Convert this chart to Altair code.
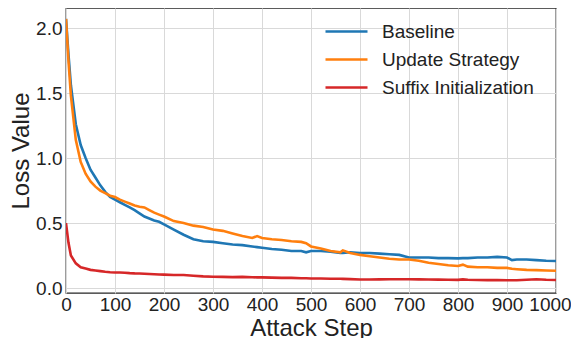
import altair as alt
import pandas as pd

steps = [0, 5, 10, 20, 30, 40, 50, 60, 70, 80, 90, 100, 110, 120, 130, 140, 150, 160, 170, 180,
         190, 200, 220, 240, 260, 280, 300, 320, 340, 360, 380, 390, 400, 420, 440, 460, 480, 490,
         500, 520, 540, 560, 565, 580, 600, 620, 640, 660, 680, 700, 720, 740, 760, 780, 800, 810,
         820, 840, 860, 880, 900, 910, 920, 940, 960, 980, 1000]

baseline = [2.07, 1.80, 1.56, 1.26, 1.10, 1.00, 0.91, 0.85, 0.79, 0.74, 0.70, 0.68, 0.66, 0.64,
            0.62, 0.60, 0.575, 0.55, 0.535, 0.52, 0.51, 0.49, 0.45, 0.41, 0.375, 0.36, 0.355,
            0.345, 0.335, 0.33, 0.32, 0.315, 0.31, 0.30, 0.295, 0.285, 0.285, 0.275, 0.285,
            0.285, 0.28, 0.27, 0.27, 0.275, 0.27, 0.27, 0.265, 0.26, 0.255, 0.235, 0.235, 0.235,
            0.23, 0.23, 0.228, 0.23, 0.23, 0.235, 0.235, 0.24, 0.235, 0.215, 0.22, 0.22, 0.215,
            0.21, 0.208]

update_strategy = [2.07, 1.75, 1.48, 1.14, 0.97, 0.88, 0.82, 0.78, 0.75, 0.73, 0.71, 0.70, 0.68,
                   0.665, 0.65, 0.635, 0.625, 0.62, 0.60, 0.58, 0.565, 0.55, 0.515, 0.50, 0.48,
                   0.47, 0.45, 0.44, 0.42, 0.40, 0.385, 0.40, 0.385, 0.375, 0.37, 0.36, 0.355,
                   0.345, 0.32, 0.305, 0.285, 0.275, 0.29, 0.27, 0.255, 0.245, 0.235, 0.225, 0.22,
                   0.22, 0.21, 0.195, 0.185, 0.175, 0.17, 0.18, 0.165, 0.16, 0.16, 0.155, 0.155,
                   0.148, 0.145, 0.14, 0.138, 0.135, 0.133]

suffix_init = [0.50, 0.35, 0.25, 0.19, 0.16, 0.15, 0.14, 0.135, 0.13, 0.125, 0.122, 0.12, 0.12,
               0.118, 0.115, 0.113, 0.112, 0.11, 0.108, 0.106, 0.104, 0.103, 0.10, 0.10, 0.095,
               0.09, 0.087, 0.086, 0.084, 0.086, 0.083, 0.082, 0.082, 0.08, 0.078, 0.078, 0.076,
               0.076, 0.074, 0.073, 0.072, 0.072, 0.071, 0.069, 0.066, 0.066, 0.067, 0.068, 0.068,
               0.068, 0.067, 0.066, 0.065, 0.064, 0.063, 0.067, 0.064, 0.062, 0.061, 0.061, 0.060,
               0.060, 0.060, 0.064, 0.068, 0.064, 0.062]

series_names = ["Baseline", "Update Strategy", "Suffix Initialization"]
series_colors = ["#1f77b4", "#ff7f0e", "#d62728"]
x_ticks = [0, 100, 200, 300, 400, 500, 600, 700, 800, 900, 1000]
y_ticks = [0.0, 0.5, 1.0, 1.5, 2.0]

rows = []
for name, vals in zip(series_names, [baseline, update_strategy, suffix_init]):
    for i, (s, v) in enumerate(zip(steps, vals)):
        rows.append({"step": s, "loss": v, "series": name, "order": i})
df = pd.DataFrame(rows)

FONT = "Liberation Sans"

chart = alt.Chart(df).mark_line(strokeWidth=2.6, clip=True).encode(
    x=alt.X("step:Q", scale=alt.Scale(domain=[0, 1000], nice=False),
            axis=alt.Axis(values=x_ticks, title="Attack Step", format="d",
                          labelOverlap=False, labelPadding=2, labelFlush=False,
                          labelOffset={"condition": {"test": "datum.value === 1000", "value": -6},
                                       "value": 0})),
    y=alt.Y("loss:Q", scale=alt.Scale(domain=[-0.038, 2.154], nice=False, zero=False),
            axis=alt.Axis(values=y_ticks, title="Loss Value", format=".1f",
                          labelOverlap=False, labelFlush=False)),
    color=alt.Color("series:N",
                    scale=alt.Scale(domain=series_names, range=series_colors),
                    sort=series_names,
                    legend=alt.Legend(title=None, orient="none", legendX=271, legendY=14,
                                      symbolType="M-3,0H3", symbolSize=196,
                                      symbolStrokeWidth=2.6, symbolFillColor="transparent",
                                      labelFontSize=19,
                                      labelFont=FONT, labelColor="#222222",
                                      rowPadding=8, labelOffset=26)),
    detail="series:N",
    order="order:Q",
).properties(
    width=490, height=285,
    background="white",
    autosize=alt.AutoSizeParams(type="none"),
    padding={"left": 58, "top": 0, "right": 15, "bottom": 45},
).configure_view(
    stroke="#262626", strokeWidth=1.3
).configure_axis(
    domain=False, ticks=False, grid=True, gridColor="#d9d9d9", gridWidth=1,
    labelFont=FONT, labelFontSize=19, labelColor="#222222", labelPadding=4,
    titleFont=FONT, titleFontSize=24, titleFontWeight="normal", titleColor="#222222",
    titlePadding=2
)

chart.save("out.html", embed_options={"renderer": "svg", "actions": False})
